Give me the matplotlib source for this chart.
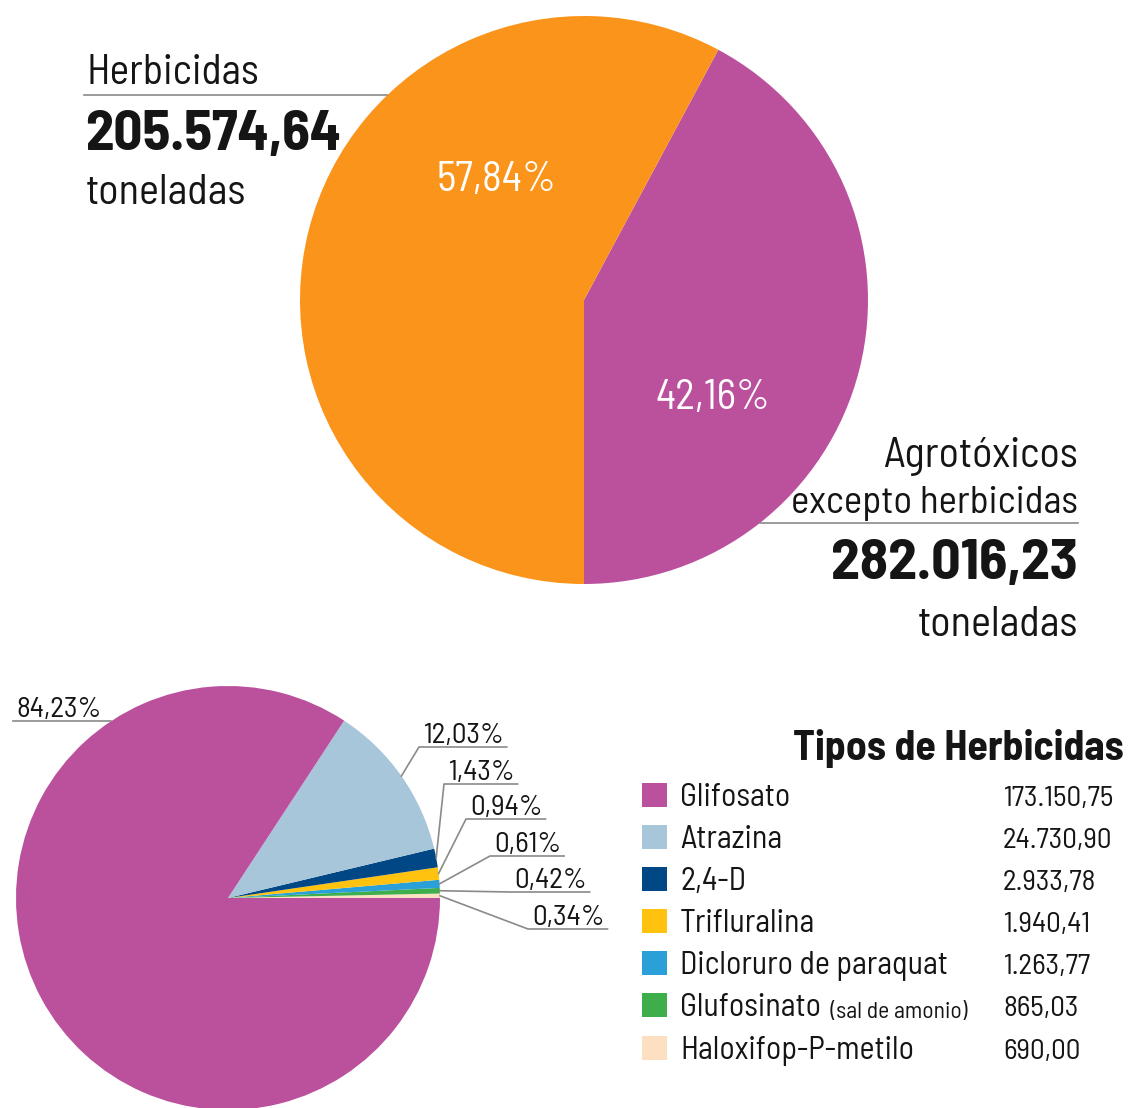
import numpy as np
import matplotlib
matplotlib.use("Agg")
import matplotlib.pyplot as plt
from matplotlib.patches import Rectangle

W, H = 1142, 1108

# data
top_names = ["Agrotóxicos excepto herbicidas", "Herbicidas"]
top_pct = [42.16, 57.84]
top_colors = ["#BB519D", "#FA941A"]

herb_names = ["Glifosato", "Atrazina", "2,4-D", "Trifluralina",
              "Dicloruro de paraquat", "Glufosinato", "Haloxifop-P-metilo"]
herb_tons = [173150.75, 24730.90, 2933.78, 1940.41, 1263.77, 865.03, 690.00]
herb_pct = [84.23, 12.03, 1.43, 0.94, 0.61, 0.42, 0.34]
herb_colors = ["#BB519D", "#A7C6DA", "#004785", "#FFC20E",
               "#2A9FD8", "#3DAE49", "#FDDFC2"]

plt.rcParams['font.family'] = ['Barlow Semi Condensed', 'DejaVu Sans']

fig = plt.figure(figsize=(W / 100, H / 100), dpi=100)
renderer = fig.canvas.get_renderer()


def fmt(v, dec=2):
    s = f"{v:,.{dec}f}"
    return s.replace(",", "X").replace(".", ",").replace("X", ".")


def pie_axes(cx, cy, r):
    a = fig.add_axes([(cx - r) / W, (H - cy - r) / H, 2 * r / W, 2 * r / H])
    a.axis('off')
    return a


# top pie
tcx, tcy, tr = 584, 300, 284
ax1 = pie_axes(tcx, tcy, tr)
ax1.pie(top_pct, colors=top_colors, startangle=-90, counterclock=True,
        radius=1, wedgeprops=dict(linewidth=0))
ax1.set_xlim(-1, 1)
ax1.set_ylim(-1, 1)

# bottom pie
bcx, bcy, br = 228, 898, 212
ax2 = pie_axes(bcx, bcy, br)
wedges, _ = ax2.pie(herb_tons[::-1], colors=herb_colors[::-1], startangle=0,
                    counterclock=True, radius=1, wedgeprops=dict(linewidth=0))
ax2.set_xlim(-1, 1)
ax2.set_ylim(-1, 1)
wedges = wedges[::-1]

# overlay in pixel coords
ov = fig.add_axes([0, 0, 1, 1])
ov.set_xlim(0, W)
ov.set_ylim(H, 0)
ov.axis('off')
ov.set_zorder(5)

txt = "#151515"
gray = "#8a8a8a"


def edge_x(cx, cy, r, y, side):
    return cx + side * np.sqrt(r ** 2 - (cy - y) ** 2)


def width_px(t):
    return t.get_window_extent(renderer).width


# top pie texts
ov.text(496, 180, fmt(top_pct[1]) + "%", color="white", fontsize=30,
        ha='center', va='center')
ov.text(713, 398, fmt(top_pct[0]) + "%", color="white", fontsize=30,
        ha='center', va='center')

ov.text(86, 84, "Herbicidas", fontsize=30, color=txt, ha='left', va='baseline')
ov.plot([84, edge_x(tcx, tcy, tr, 95, -1)], [95, 95], color=gray, lw=1.2)
ov.text(85, 150, fmt(205574.64), fontsize=41, fontweight='bold', color=txt,
        ha='left', va='baseline')
ov.text(86, 204, "toneladas", fontsize=30.5, color=txt, ha='left', va='baseline')

ov.text(1078, 467, "Agrotóxicos", fontsize=30.5, color=txt, ha='right', va='baseline')
ov.text(1078, 513, "excepto herbicidas", fontsize=28, color=txt, ha='right', va='baseline')
ov.plot([edge_x(tcx, tcy, tr, 523, 1), 1078], [523, 523], color=gray, lw=1.2)
ov.text(1078, 579, fmt(282016.23), fontsize=41.5, fontweight='bold', color=txt,
        ha='right', va='baseline')
ov.text(1078, 636, "toneladas", fontsize=30.5, color=txt, ha='right', va='baseline')

# bottom pie labels with leader lines
lab_x = [16, 423, 448, 470, 494, 514, 532]
lab_y = [717, 743, 780, 815, 852, 888, 925]
anchor_frac = [0.22, 0.5, 0.5, 0.5, 0.5, 0.5, 0.5]
for i, w in enumerate(wedges):
    s = ov.text(lab_x[i], lab_y[i], fmt(herb_pct[i]) + "%", fontsize=21,
                color=txt, ha='left', va='baseline')
    ul = lab_y[i] + 4
    tw = width_px(s)
    ang = np.radians(w.theta1 + anchor_frac[i] * (w.theta2 - w.theta1))
    axp = bcx + br * np.cos(ang)
    ayp = bcy - br * np.sin(ang)
    if i == 0:
        ov.plot([lab_x[i] - 3, axp], [ul, ul], color=gray, lw=1.2)
    else:
        ov.plot([axp, lab_x[i] - 4, lab_x[i] + tw + 3], [ayp, ul, ul],
                color=gray, lw=1.2)

# legend
ov.text(1124, 760, "Tipos de Herbicidas", fontsize=30, fontweight='bold',
        color=txt, ha='right', va='baseline')
row_y = [795, 837, 879, 921, 963, 1005, 1048]
for i, name in enumerate(herb_names):
    y = row_y[i]
    ov.add_patch(Rectangle((642, y - 12), 25, 24, color=herb_colors[i], lw=0))
    t = ov.text(680, y + 11, name, fontsize=23, color=txt, ha='left', va='baseline')
    if name == "Glufosinato":
        ov.annotate("  (sal de amonio)", xycoords=t, xy=(1, 0), fontsize=17,
                    color=txt, ha='left', va='bottom')
    ov.text(1003, y + 11, fmt(herb_tons[i]), fontsize=21, color=txt,
            ha='left', va='baseline')

fig.savefig("out.png", dpi=100)
